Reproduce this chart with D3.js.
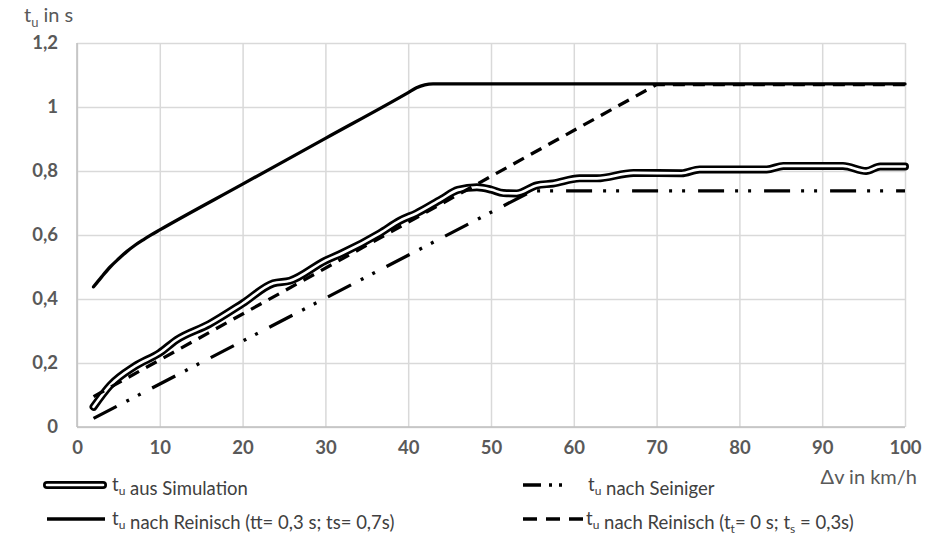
<!DOCTYPE html>
<html>
<head>
<meta charset="utf-8">
<script src="https://cdn.jsdelivr.net/npm/d3@7"></script>
<style>
  body { margin: 0; background: #fff; }
  text { font-family: Lato, "Noto Sans", sans-serif; }
</style>
</head>
<body>
<div id="chart"></div>
<script>
// values
var simX = [2, 4, 7, 10, 12, 16, 20, 23.7, 25.7, 30, 32, 36.6, 39, 41, 44, 46, 48.3, 50, 51.5, 53.1, 55.5, 57.5, 60.7, 62.8, 67.2, 73, 75.2, 83.3, 85.3, 92.5, 95.3, 97, 100];
var simY = [0.063, 0.13, 0.19, 0.232, 0.272, 0.322, 0.386, 0.449, 0.457, 0.52, 0.543, 0.606, 0.645, 0.668, 0.712, 0.741, 0.749, 0.742, 0.731, 0.73, 0.755, 0.761, 0.777, 0.777, 0.794, 0.793, 0.805, 0.805, 0.816, 0.816, 0.8, 0.814, 0.814];

var seinX = [2, 55, 100];
var seinY = [0.027, 0.738, 0.738];

var rein1X = [2, 3, 4, 5, 6, 7, 8, 9, 10, 20, 30, 40, 41, 42, 43, 100];
var rein1Y = [0.438, 0.47, 0.5, 0.525, 0.548, 0.568, 0.585, 0.601, 0.616, 0.759, 0.902, 1.045, 1.06, 1.069, 1.072, 1.072];

var rein2X = [2, 70, 100];
var rein2Y = [0.095, 1.07, 1.07];

var xTicks = [0, 10, 20, 30, 40, 50, 60, 70, 80, 90, 100];
var yTicks = [0, 0.2, 0.4, 0.6, 0.8, 1, 1.2];

var width = 930, height = 537;
var margins = {top: 43, bottom: 110, left: 77, right: 25};
var plotW = width - margins.left - margins.right;
var plotH = height - margins.top - margins.bottom;

var svg = d3.select('#chart').append('svg')
  .attr('width', width)
  .attr('height', height);

var g = svg.append('g')
  .attr('transform', 'translate(' + margins.left + ',' + margins.top + ')');

var x = d3.scaleLinear().domain([0, 100]).range([0, plotW]);
var y = d3.scaleLinear().domain([0, 1.2]).range([plotH, 0]);

var fmt = function(d) { return String(d).replace('.', ','); };

// gridlines
g.append('g')
  .call(d3.axisLeft(y).tickValues(yTicks).tickSize(-plotW).tickFormat(''))
  .call(s => s.select('.domain').remove())
  .selectAll('line').attr('stroke', '#d9d9d9').attr('stroke-width', 1.5);

g.append('g')
  .attr('transform', 'translate(0,' + plotH + ')')
  .call(d3.axisBottom(x).tickValues(xTicks).tickSize(-plotH).tickFormat(''))
  .call(s => s.select('.domain').remove())
  .selectAll('line').attr('stroke', '#d9d9d9').attr('stroke-width', 1.5);

// axis lines
g.append('line').attr('x1', 0).attr('x2', 0).attr('y1', 0).attr('y2', plotH)
  .attr('stroke', '#bfbfbf').attr('stroke-width', 1.5);
g.append('line').attr('x1', 0).attr('x2', plotW).attr('y1', plotH).attr('y2', plotH)
  .attr('stroke', '#bfbfbf').attr('stroke-width', 1.5);

// tick labels
var yAxis = g.append('g')
  .call(d3.axisLeft(y).tickValues(yTicks).tickSize(0).tickPadding(19).tickFormat(fmt));
yAxis.select('.domain').remove();
yAxis.selectAll('text')
  .attr('font-family', 'Lato, sans-serif')
  .attr('font-size', 18.5).attr('font-weight', 'bold').attr('fill', '#595959');

var xAxis = g.append('g')
  .attr('transform', 'translate(0,' + plotH + ')')
  .call(d3.axisBottom(x).tickValues(xTicks).tickSize(0).tickPadding(14).tickFormat(fmt));
xAxis.select('.domain').remove();
xAxis.selectAll('text')
  .attr('font-family', 'Lato, sans-serif')
  .attr('font-size', 18.5).attr('font-weight', 'bold').attr('fill', '#595959');

// axis titles
var yTitle = svg.append('text').attr('x', 24).attr('y', 22)
  .attr('font-size', 20).attr('fill', '#595959');
yTitle.append('tspan').text('t');
yTitle.append('tspan').attr('dy', 5).attr('font-size', 13).text('u');
yTitle.append('tspan').attr('dy', -5).text(' in s');

svg.append('text').attr('x', 917).attr('y', 484)
  .attr('text-anchor', 'end')
  .attr('font-size', 20).attr('fill', '#595959')
  .text('\u0394v in km/h');

// series: smooth for measured/curved data, straight for the linear models
var smooth = d3.line()
  .x(d => x(d[0]))
  .y(d => y(d[1]))
  .curve(d3.curveMonotoneX);
var straight = d3.line()
  .x(d => x(d[0]))
  .y(d => y(d[1]));

var simData = d3.zip(simX, simY);
var seinData = d3.zip(seinX, seinY);
var rein1Data = d3.zip(rein1X, rein1Y);
var rein2Data = d3.zip(rein2X, rein2Y);

var dashSein = '26,11,3,10,3,13';
var dashRein = '12,8';

g.append('path').datum(simData).attr('d', smooth)
  .attr('fill', 'none').attr('stroke', '#000').attr('stroke-width', 8)
  .attr('stroke-linecap', 'round').attr('stroke-linejoin', 'round');
g.append('path').datum(simData).attr('d', smooth)
  .attr('fill', 'none').attr('stroke', '#fff').attr('stroke-width', 2.6)
  .attr('stroke-linecap', 'round').attr('stroke-linejoin', 'round');

g.append('path').datum(seinData).attr('d', straight)
  .attr('fill', 'none').attr('stroke', '#000').attr('stroke-width', 3.3)
  .attr('stroke-dasharray', dashSein);

g.append('path').datum(rein1Data).attr('d', smooth)
  .attr('fill', 'none').attr('stroke', '#000').attr('stroke-width', 3.3)
  .attr('stroke-linecap', 'round').attr('stroke-linejoin', 'round');

g.append('path').datum(rein2Data).attr('d', straight)
  .attr('fill', 'none').attr('stroke', '#000').attr('stroke-width', 3.3)
  .attr('stroke-dasharray', dashRein);

// legend
var legend = svg.append('g');

function legendText(xPos, yPos) {
  var t = legend.append('text').attr('x', xPos).attr('y', yPos)
    .attr('font-size', 18.5).attr('fill', '#404040');
  t.append('tspan').text('t');
  t.append('tspan').attr('dy', 4).attr('font-size', 12).text('u');
  t.append('tspan').attr('dy', -4);
  return t;
}

// row 1 left: simulation
legend.append('line').attr('x1', 47).attr('x2', 103).attr('y1', 485).attr('y2', 485)
  .attr('stroke', '#000').attr('stroke-width', 8).attr('stroke-linecap', 'round');
legend.append('line').attr('x1', 47).attr('x2', 103).attr('y1', 485).attr('y2', 485)
  .attr('stroke', '#fff').attr('stroke-width', 2.6).attr('stroke-linecap', 'round');
var t1 = legendText(112, 491);
t1.append('tspan').text(' aus Simulation');

// row 1 right: Seiniger
legend.append('line').attr('x1', 523).attr('x2', 581).attr('y1', 485).attr('y2', 485)
  .attr('stroke', '#000').attr('stroke-width', 3.3).attr('stroke-dasharray', '18,8,3,7,3,20');
var t2 = legendText(588, 491);
t2.append('tspan').text('  nach Seiniger');

// row 2 left: Reinisch solid
legend.append('line').attr('x1', 47).attr('x2', 105).attr('y1', 519).attr('y2', 519)
  .attr('stroke', '#000').attr('stroke-width', 3.3);
var t3 = legendText(112, 525);
t3.append('tspan').text(' nach Reinisch (tt= 0,3 s; ts= 0,7s)');

// row 2 right: Reinisch dashed
legend.append('line').attr('x1', 523).attr('x2', 584).attr('y1', 519).attr('y2', 519)
  .attr('stroke', '#000').attr('stroke-width', 3.3).attr('stroke-dasharray', '14,9');
var t4 = legendText(586, 525);
t4.append('tspan').text(' nach Reinisch (t');
t4.append('tspan').attr('dy', 4).attr('font-size', 12).text('t');
t4.append('tspan').attr('dy', -4).text('= 0 s; t');
t4.append('tspan').attr('dy', 4).attr('font-size', 12).text('s');
t4.append('tspan').attr('dy', -4).text(' = 0,3s)');
</script>
</body>
</html>
